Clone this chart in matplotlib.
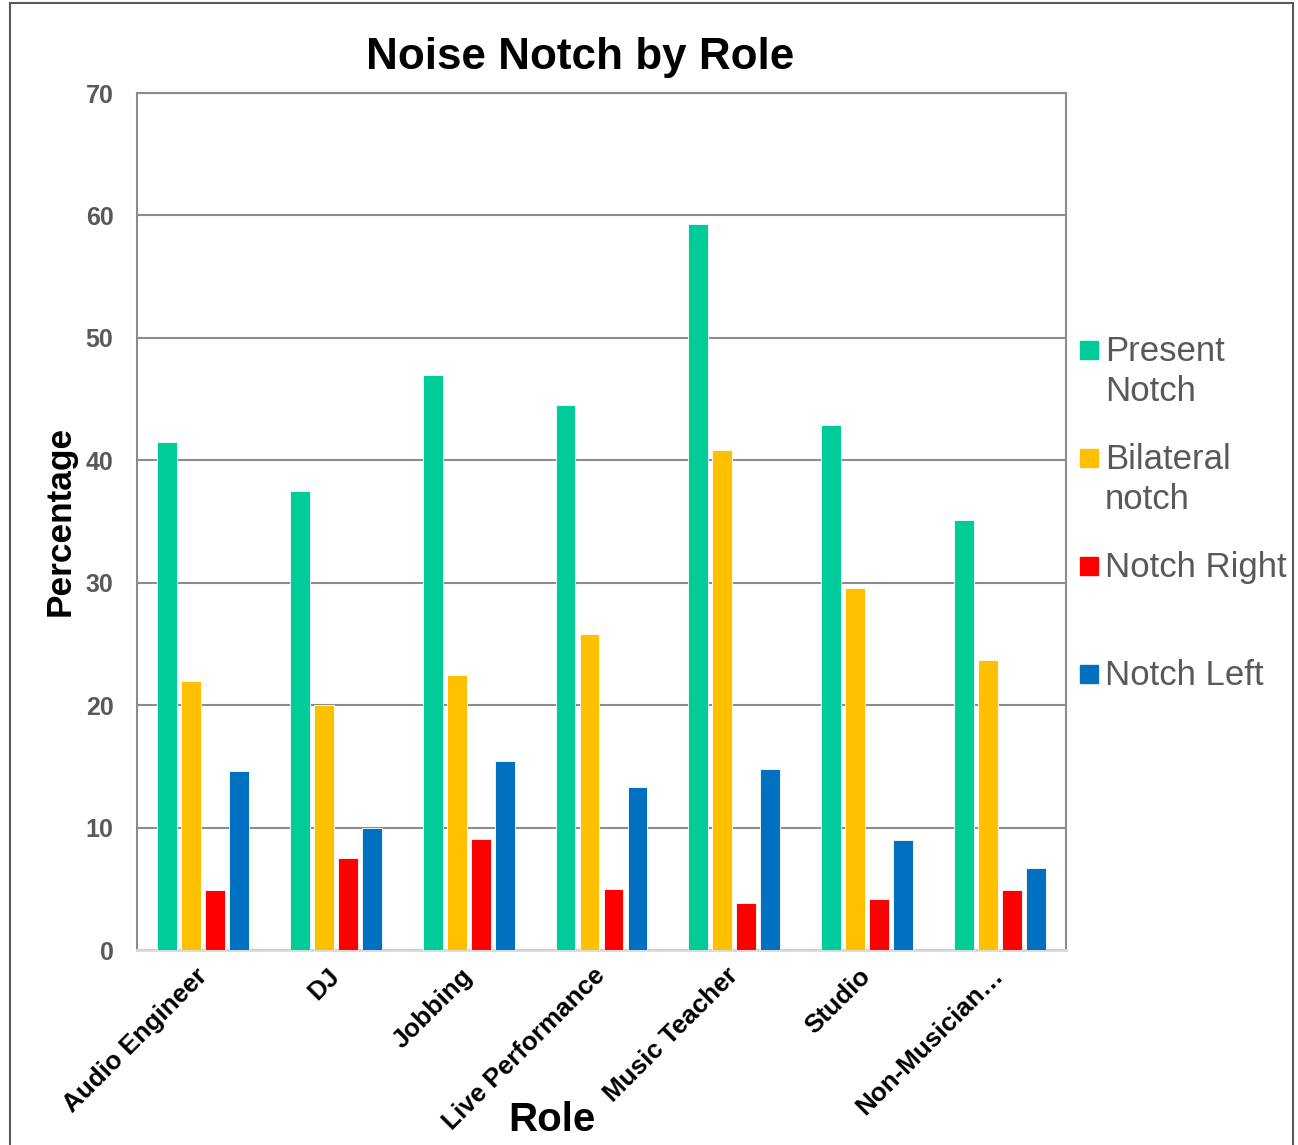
import matplotlib.pyplot as plt
import numpy as np
from matplotlib.lines import Line2D
from matplotlib.patches import Rectangle

plt.rcParams['font.family'] = ['Liberation Sans', 'DejaVu Sans']

# Data
roles = ['Audio Engineer', 'DJ', 'Jobbing', 'Live Performance',
         'Music Teacher', 'Studio', 'Non-Musician…']
present_notch = [41.5, 37.5, 47.0, 44.5, 59.3, 42.9, 35.1]
bilateral_notch = [22.0, 20.0, 22.5, 25.8, 40.8, 29.6, 23.7]
notch_right = [4.9, 7.5, 9.1, 5.0, 3.8, 4.2, 4.9]
notch_left = [14.6, 10.0, 15.4, 13.3, 14.8, 9.0, 6.7]

series = [present_notch, bilateral_notch, notch_right, notch_left]
legend_labels = ['Present\nNotch', 'Bilateral\nnotch', 'Notch Right', 'Notch Left']
colors = ['#00CC99', '#FFC000', '#FF0000', '#0070C0']
yticks = [0, 10, 20, 30, 40, 50, 60, 70]

W, H = 1298, 1145
fig = plt.figure(figsize=(W / 100, H / 100), dpi=100)
ax = fig.add_axes([137 / W, 1 - 950 / H, (1066 - 137) / W, (950 - 93) / H])

x = np.arange(len(roles))
step = 0.181
width = 0.15
for i, (vals, col) in enumerate(zip(series, colors)):
    ax.bar(x + (i - 1.5) * step, vals, width, color=col,
           edgecolor='white', linewidth=0.6, zorder=3)

ax.set_xlim(-0.5, len(roles) - 0.5)
ax.set_ylim(0, 70)
ax.set_yticks(yticks)
ax.yaxis.grid(True, color='#8c8c8c', linewidth=1.5, zorder=0)
ax.tick_params(axis='y', length=0, pad=17, labelsize=18, labelcolor='#595959')
for lab in ax.get_yticklabels():
    lab.set_fontweight('bold')

ax.set_xticks(x)
ax.set_xticklabels(roles, rotation=45, ha='right', va='center',
                   rotation_mode='anchor', fontsize=18.7, fontweight='bold')
ax.tick_params(axis='x', length=0, pad=16)

for side in ['left', 'top', 'right']:
    ax.spines[side].set_color('#8c8c8c')
    ax.spines[side].set_linewidth(1.5)
ax.spines['bottom'].set_color('#d9d9d9')
ax.spines['bottom'].set_linewidth(2)

# titles
fig.text(580 / W, 1 - 57 / H, 'Noise Notch by Role', ha='center', va='center',
         fontsize=31.7, fontweight='bold')
fig.text(60 / W, 1 - 521 / H, 'Percentage', ha='center', va='center',
         rotation=90, fontsize=25.4, fontweight='bold')
fig.text(552 / W, 1 - 1120 / H, 'Role', ha='center', va='center',
         fontsize=29, fontweight='bold')

# legend on the right
for i, (lab, col) in enumerate(zip(legend_labels, colors)):
    ytop = 341 + 108 * i
    fig.add_artist(Rectangle((1080 / W, 1 - (ytop + 18) / H), 18 / W, 18 / H,
                             transform=fig.transFigure, color=col))
    for j, line in enumerate(lab.split('\n')):
        fig.text(1105 / W, 1 - (361 + 108 * i + 40 * j) / H, line,
                 ha='left', va='baseline', fontsize=25, color='#595959')

# outer chart border
for xs, ys in [([10, 10], [3, H]), ([10, 1293], [3, 3]), ([1293, 1293], [3, H])]:
    fig.add_artist(Line2D([v / W for v in xs], [1 - v / H for v in ys],
                          transform=fig.transFigure, color='#595959', linewidth=1.5))

fig.savefig('out.png', dpi=100)
